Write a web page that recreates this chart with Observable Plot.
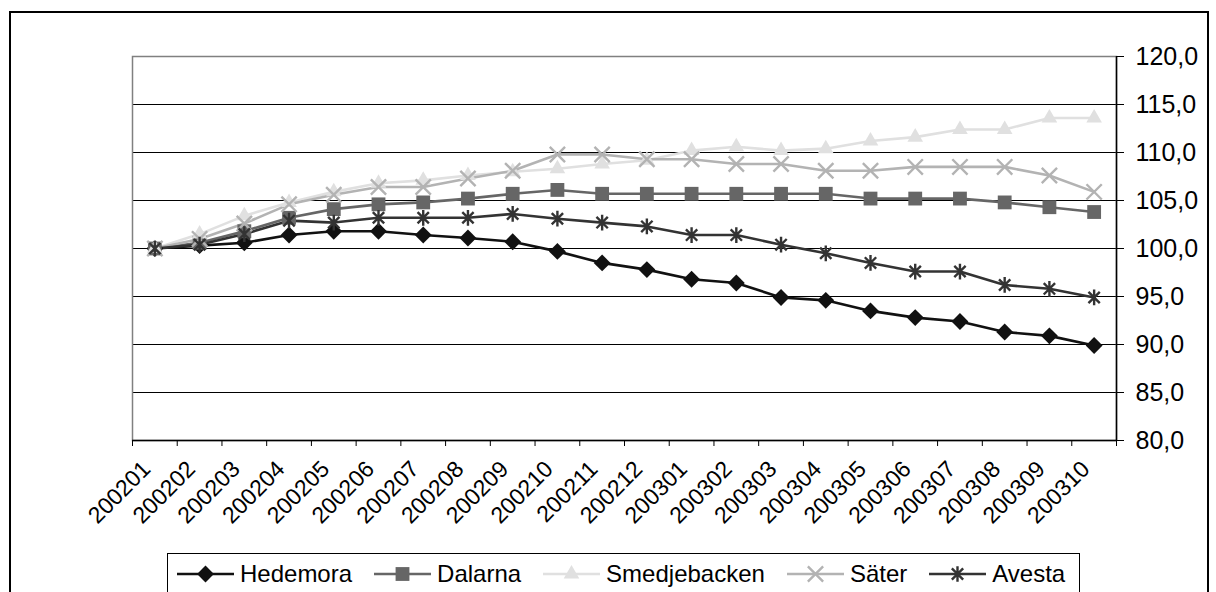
<!DOCTYPE html>
<html>
<head>
<meta charset="utf-8">
<script src="https://cdn.jsdelivr.net/npm/d3@7"></script>
<script src="https://cdn.jsdelivr.net/npm/@observablehq/plot@0.6"></script>
<style>
  html, body { margin: 0; padding: 0; background: #fff; }
  #wrap { position: relative; width: 1216px; height: 592px; overflow: hidden; font-family: "Liberation Sans", Arial, sans-serif; }
  #outer { position: absolute; left: 9px; top: 11px; width: 1196px; height: 700px; border: 2px solid #000; }
  #chart { position: absolute; left: 0; top: 0; }
  #legend { position: absolute; left: 167px; top: 553px; width: 913px; height: 60px; border: 1.5px solid #000; background: #fff;
            display: flex; align-items: flex-start; padding-left: 9px; padding-top: 5px; box-sizing: border-box; gap: 0; }
  .item { display: flex; align-items: center; margin-right: 22px; font-size: 24px; color: #000; }
  .item svg { margin-right: 6px; }
</style>
</head>
<body>
<div id="wrap">
  <div id="outer"></div>
  <div id="chart"></div>
  <div id="legend"></div>
</div>
<script>
const months = ["200201","200202","200203","200204","200205","200206","200207","200208","200209","200210","200211","200212",
                "200301","200302","200303","200304","200305","200306","200307","200308","200309","200310"];
const seriesNames = ["Hedemora","Dalarna","Smedjebacken","Säter","Avesta"];
const hedemora     = [100, 100.3, 100.6, 101.4, 101.8, 101.8, 101.4, 101.1, 100.7, 99.7, 98.5, 97.8, 96.8, 96.4, 94.9, 94.6, 93.5, 92.8, 92.4, 91.3, 90.9, 89.9];
const dalarna      = [100, 100.6, 101.8, 103.2, 104.1, 104.6, 104.8, 105.2, 105.7, 106.1, 105.7, 105.7, 105.7, 105.7, 105.7, 105.7, 105.2, 105.2, 105.2, 104.8, 104.3, 103.8];
const smedjebacken = [100, 101.5, 103.4, 104.8, 105.9, 106.8, 107.1, 107.6, 108.0, 108.3, 108.8, 109.2, 110.2, 110.6, 110.2, 110.4, 111.2, 111.6, 112.4, 112.4, 113.6, 113.6];
const sater        = [100, 101.0, 102.6, 104.6, 105.6, 106.4, 106.4, 107.3, 108.1, 109.8, 109.8, 109.3, 109.3, 108.8, 108.8, 108.1, 108.1, 108.5, 108.5, 108.5, 107.6, 105.9];
const avesta       = [100, 100.4, 101.5, 102.9, 102.7, 103.2, 103.2, 103.2, 103.6, 103.1, 102.7, 102.3, 101.4, 101.4, 100.4, 99.5, 98.5, 97.6, 97.6, 96.2, 95.8, 94.9];
const yTicks = [80, 85, 90, 95, 100, 105, 110, 115, 120];

const seriesValues = [hedemora, dalarna, smedjebacken, sater, avesta];

// Excel-like star marker: vertical bar plus an X
const symbolStar6 = {
  draw(context, size) {
    const r = Math.sqrt(size) * 0.6;
    const k = r * 0.72;
    context.moveTo(0, -r); context.lineTo(0, r);
    context.moveTo(-k, -k); context.lineTo(k, k);
    context.moveTo(-k, k); context.lineTo(k, -k);
  }
};

// styles (kept separate from data)
const styles = {
  "Hedemora":     {color: "#111111", symbol: d3.symbolDiamond2, r: 7.6, filled: true},
  "Dalarna":      {color: "#666666", symbol: d3.symbolSquare,   r: 7.8, filled: true},
  "Smedjebacken": {color: "#e0e0e0", symbol: d3.symbolTriangle, r: 5.8, filled: true},
  "Säter":        {color: "#b3b3b3", symbol: d3.symbolTimes,    r: 7.0, filled: false},
  "Avesta":       {color: "#333333", symbol: symbolStar6,       r: 7.4, filled: false}
};

const rows = seriesNames.map((name, s) => seriesValues[s].map((v, i) => ({series: name, i, month: months[i], value: v})));

const boundaries = d3.range(0, months.length + 1);
const fmt = d => d.toFixed(1).replace(".", ",");

const marks = [
  Plot.ruleY(yTicks.filter(v => v > 80 && v < 120), {stroke: "#000", strokeWidth: 1}),
  Plot.frame({stroke: "#808080", strokeWidth: 1.5}),
  Plot.ruleY([80], {stroke: "#000", strokeWidth: 1.5}),
  Plot.ruleX([months.length], {stroke: "#000", strokeWidth: 1.5}),
];
seriesNames.forEach((name, s) => {
  const st = styles[name];
  marks.push(Plot.line(rows[s], {x: d => d.i + 0.5, y: "value", stroke: st.color, strokeWidth: 2.6}));
});
seriesNames.forEach((name, s) => {
  const st = styles[name];
  marks.push(Plot.dot(rows[s], st.filled
    ? {x: d => d.i + 0.5, y: "value", symbol: () => st.symbol, r: st.r, fill: st.color, stroke: "none"}
    : {x: d => d.i + 0.5, y: "value", symbol: () => st.symbol, r: st.r, stroke: st.color, strokeWidth: 2.4, fill: "none"}));
});
marks.push(
  Plot.text(months, {x: (d, i) => i + 0.5, frameAnchor: "bottom", text: d => d, rotate: -45, textAnchor: "end",
                     fontSize: 23, dx: -3, dy: 30, fill: "#000"}),
  Plot.axisX({ticks: boundaries, tickSize: 6, tickFormat: () => "", label: null, stroke: "#000"}),
  Plot.axisY({anchor: "right", ticks: yTicks, tickSize: 7, tickPadding: 12, fontSize: 25, tickFormat: fmt, label: null})
);

const chart = Plot.plot({
  width: 1216,
  height: 550,
  marginLeft: 132,
  marginRight: 100,
  marginTop: 56,
  marginBottom: 110,
  x: {type: "linear", domain: [0, months.length]},
  y: {domain: [80, 120]},
  symbol: {type: "identity"},
  style: {background: "transparent", overflow: "visible", fontFamily: "'Liberation Sans', Arial, sans-serif", color: "#000"},
  marks
});
document.getElementById("chart").appendChild(chart);

// legend
const legend = document.getElementById("legend");
seriesNames.forEach(name => {
  const st = styles[name];
  const item = document.createElement("div");
  item.className = "item";
  const svg = d3.create("svg").attr("width", 57).attr("height", 30);
  svg.append("line").attr("x1", 0).attr("x2", 57).attr("y1", 15).attr("y2", 15).attr("stroke", st.color).attr("stroke-width", 2.5);
  const size = Math.PI * st.r * st.r;
  const p = svg.append("path").attr("transform", "translate(28.5,15)").attr("d", d3.symbol(st.symbol, size)());
  if (st.filled) p.attr("fill", st.color); else p.attr("fill", "none").attr("stroke", st.color).attr("stroke-width", 2.4);
  item.appendChild(svg.node());
  const t = document.createElement("span");
  t.textContent = name;
  item.appendChild(t);
  legend.appendChild(item);
});
</script>
</body>
</html>
